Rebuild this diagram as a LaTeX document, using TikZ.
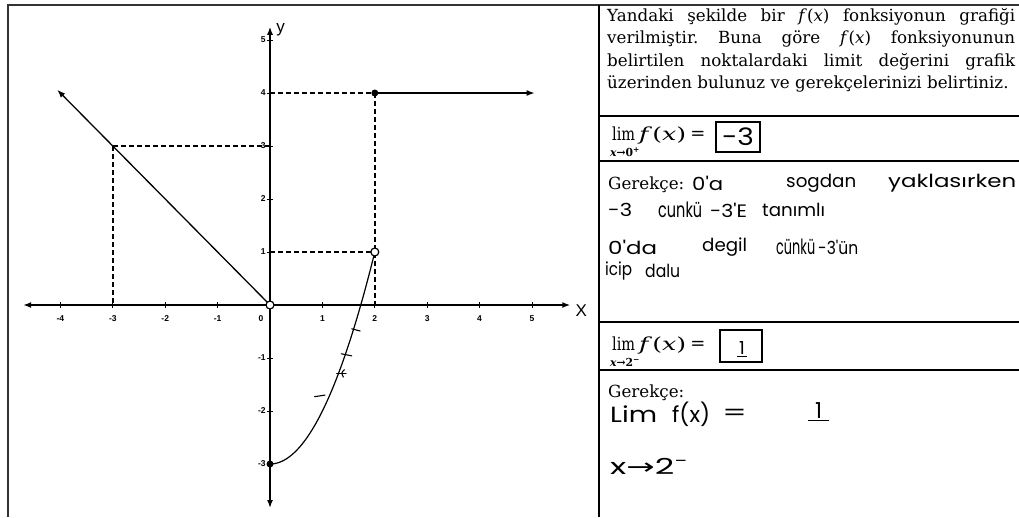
\documentclass[tikz,border=0pt]{standalone}
\usepackage{fontspec}
\usepackage{graphicx}
\setmainfont{DejaVu Serif}
\newfontfamily\axfont{Liberation Sans}
\newfontfamily\hand{Poppins}
\newfontfamily\symfont{DejaVu Sans}
\newcommand{\hwfit}[2]{\resizebox{#1}{\height}{#2}}
\usetikzlibrary{arrows.meta}
\begin{document}
\begin{tikzpicture}[x=1pt,y=-1pt,
  frame/.style={line width=1.9pt, black!80},
  rule/.style={line width=1.5pt, black},
  axis/.style={line width=1.5pt, {Latex[length=8pt,width=6pt]}-{Latex[length=8pt,width=6pt]}},
  ray/.style={line width=1.3pt, -{Latex[length=8pt,width=6pt]}},
  guide/.style={line width=1.6pt, dash pattern=on 5pt off 3pt},
  curve/.style={line width=1.2pt},
  fdot/.style={circle, fill=black, inner sep=0pt, minimum size=7pt},
  odot/.style={circle, draw=black, fill=white, line width=1.2pt, inner sep=0pt, minimum size=8pt},
  ticklab/.style={font=\axfont\bfseries\fontsize{8.5}{9}\selectfont, inner sep=1pt},
  axlab/.style={font=\axfont\fontsize{17}{18}\selectfont, inner sep=0pt},
  txt/.style={font=\frenchspacing\fontsize{16.7}{22.5}\selectfont, inner sep=0pt},
  limtxt/.style={font=\fontsize{18}{20}\selectfont, inner sep=0pt},
  subtxt/.style={font=\bfseries\fontsize{11}{11}\selectfont, inner sep=0pt},
  hw/.style={font=\hand\fontsize{18}{20}\selectfont, inner sep=0pt, anchor=west},
  hwl/.style={font=\hand\fontsize{21}{22}\selectfont, inner sep=0pt, anchor=west},
  hwbig/.style={font=\hand\fontsize{22}{22}\selectfont, inner sep=0pt, anchor=west},
  ansbox/.style={draw, line width=1.1pt, inner sep=0pt},
  penmark/.style={line width=1.1pt, line cap=round}
]
\useasboundingbox (0,0) rectangle (1019,517);
\fill[white] (0,0) rectangle (1019,517);

% ---------- frame ----------
\coordinate (fbl) at (8,517);
\coordinate (ftl) at (8,5);
\coordinate (ftr) at (1019,5);
\coordinate (sepT) at (599,5);
\coordinate (sepB) at (599,517);
\draw[frame] (fbl) -- (ftl) -- (ftr);
\draw[line width=2.2pt] (sepT) -- (sepB);
\foreach \yy/\nm in {116/r1, 161/r2, 322/r3, 370/r4}{
  \coordinate (\nm a) at (600,\yy);
  \coordinate (\nm b) at (1019,\yy);
  \draw[rule] (\nm a) -- (\nm b);
}

% ---------- graph ----------
\begin{scope}[shift={(270,305)}]
\begin{scope}[x=52.4pt, y=53pt]
  \coordinate (xl) at (-4.71,0);
  \coordinate (xr) at (5.73,0);
  \coordinate (yt) at (0,5.25);
  \coordinate (yb) at (0,-3.83);
  \coordinate (O) at (0,0);
  \coordinate (L) at (-4.06,4.06);
  \coordinate (P3) at (-3,3);
  \coordinate (Y3) at (0,3);
  \coordinate (X3) at (-3,0);
  \coordinate (Q) at (2,4);
  \coordinate (Y4) at (0,4);
  \coordinate (X2) at (2,0);
  \coordinate (R) at (2,1);
  \coordinate (Y1) at (0,1);
  \coordinate (E) at (5.05,4);

  % dashed guides
  \draw[guide] (P3) -- (Y3);
  \draw[guide] (P3) -- (X3);
  \draw[guide] (Y4) -- (Q);
  \draw[guide] (Q) -- (X2);
  \draw[guide] (Y1) -- (R);

  % axes
  \draw[axis] (xl) -- (xr);
  \draw[axis] (yb) -- (yt);
  \foreach \i in {-4,...,5}{ \draw[line width=0.8pt] (\i,0.05) -- (\i,-0.05); }
  \foreach \j in {-3,...,5}{ \draw[line width=0.8pt] (0.05,\j) -- (-0.05,\j); }

  % tick labels
  \foreach \i/\nm in {-4/xa,-3/xb,-2/xc,-1/xd,1/xf,2/xg,3/xh,4/xi,5/xj}{
    \node[ticklab] (\nm) at (\i,-0.25) {\i};
  }
  \node[ticklab] (x0) at (-0.17,-0.25) {0};
  \foreach \j/\nm in {5/ya,4/yb4,3/yc,2/yd,1/ye,-1/yf,-2/yg,-3/yh}{
    \node[ticklab, anchor=east] (\nm) at (-0.06,\j) {\j};
  }
  \node[axlab, anchor=west] (ylab) at (0.12,5.2) {y};
  \node[axlab, anchor=west] (xlab) at (5.83,-0.1) {X};

  % graph of f
  \draw[ray] (O) -- (L);
  \draw[ray] (Q) -- (E);
  \draw[curve] plot[domain=0:2, samples=60, smooth] (\x,{\x*\x-3});

  % handwritten marks on the curve
  \draw[penmark] (1.56,-0.45) -- (1.72,-0.49);
  \draw[penmark] (1.36,-0.92) -- (1.56,-0.96);
  \draw[penmark] (1.27,-1.30) -- (1.45,-1.30);
  \draw[penmark] (1.42,-1.22) .. controls (1.36,-1.28) .. (1.40,-1.36);
  \draw[penmark] (0.85,-1.73) -- (1.05,-1.70);

  % points
  \node[fdot] (S) at (0,-3) {};
  \node[fdot] (Qd) at (Q) {};
  \node[odot] (Oc) at (O) {};
  \node[odot] (Rc) at (R) {};
\end{scope}
\end{scope}

% ---------- right panel ----------
\node[txt, anchor=north west, text width=408pt, align=justify] (q) at (607,8)
{Yandaki şekilde bir \textit{f}(\textit{x}) fonksiyonun grafiği\linebreak verilmiştir. Buna göre \textit{f}(\textit{x}) fonksiyonunun\linebreak belirtilen noktalardaki limit değerini grafik\linebreak üzerinden bulunuz ve gerekçelerinizi belirtiniz.};

% first limit
\node[limtxt, anchor=base west] (lim1) at (612,140) {\hwfit{23pt}{lim}};
\node[subtxt] (s1) at (625,152) {\hwfit{30pt}{\textit{x}→0\textsuperscript{+}}};
\node[limtxt, anchor=base west] (f1) at (639,140) {\hwfit{47pt}{\textit{f}(\textit{x})}};
\node[limtxt] (e1) at (698,135) {=};
\node[ansbox, minimum width=44pt, minimum height=30pt] (b1) at (738,137) {};
\node[font=\hand\fontsize{24}{24}\selectfont, inner sep=0pt] (a1) at (b1) {\hwfit{32pt}{-3}};

\node[txt, anchor=base west] (g1) at (608,189) {Gerekçe:};
\node[hw] (w1) at (692,183) {\hwfit{31pt}{0'a}};
\node[hw] (w2) at (786,183) {\hwfit{70pt}{sogdan}};
\node[hw] (w3) at (888,183) {\hwfit{128pt}{yaklasırken}};
\node[hw] (w4) at (608,210) {\hwfit{24pt}{-3}};
\node[hwl] (w5) at (658,210) {\hwfit{44pt}{cunkü}};
\node[hw] (w6) at (710,210) {\hwfit{37pt}{-3'E}};
\node[hw] (w7) at (762,210) {\hwfit{63pt}{tanımlı}};
\node[hw] (w8) at (608,247) {\hwfit{49pt}{0'da}};
\node[hw] (w9) at (702,247) {\hwfit{45pt}{degil}};
\node[hwl] (w10) at (776,247) {\hwfit{39pt}{cünkü}};
\node[hw] (w11) at (818,247) {\hwfit{40pt}{-3'ün}};
\node[hw] (w12) at (605,271) {\hwfit{27pt}{icip}};
\node[hw] (w13) at (645,271) {\hwfit{35pt}{dalu}};

% second limit
\node[limtxt, anchor=base west] (lim2) at (612,350) {\hwfit{23pt}{lim}};
\node[subtxt] (s2) at (625,362) {\hwfit{30pt}{\textit{x}→2\textsuperscript{−}}};
\node[limtxt, anchor=base west] (f2) at (639,350) {\hwfit{47pt}{\textit{f}(\textit{x})}};
\node[limtxt] (e2) at (698,345) {=};
\node[ansbox, minimum width=42pt, minimum height=32pt] (b2) at (741,346) {};
\node[font=\hand\fontsize{18}{18}\selectfont, inner sep=0pt] (a2) at (742,349) {\underline{\hspace{2pt}1\hspace{2pt}}};

\node[txt, anchor=base west] (g2) at (608,397) {Gerekçe:};
\node[hwbig] (v1) at (610,414) {\hwfit{47pt}{Lim}};
\node[hwbig] (v2) at (672,414) {\hwfit{38pt}{f(x)}};
\node[hwbig] (v3) at (722,415) {\hwfit{25pt}{=}};
\node[hwbig] (v4) at (808,412) {\underline{\hspace{7pt}1\hspace{7pt}}};
\node[hwbig] (v5) at (610,466) {\hwfit{78pt}{x{\symfont→}2\textsuperscript{−}}};
\end{tikzpicture}
\end{document}
